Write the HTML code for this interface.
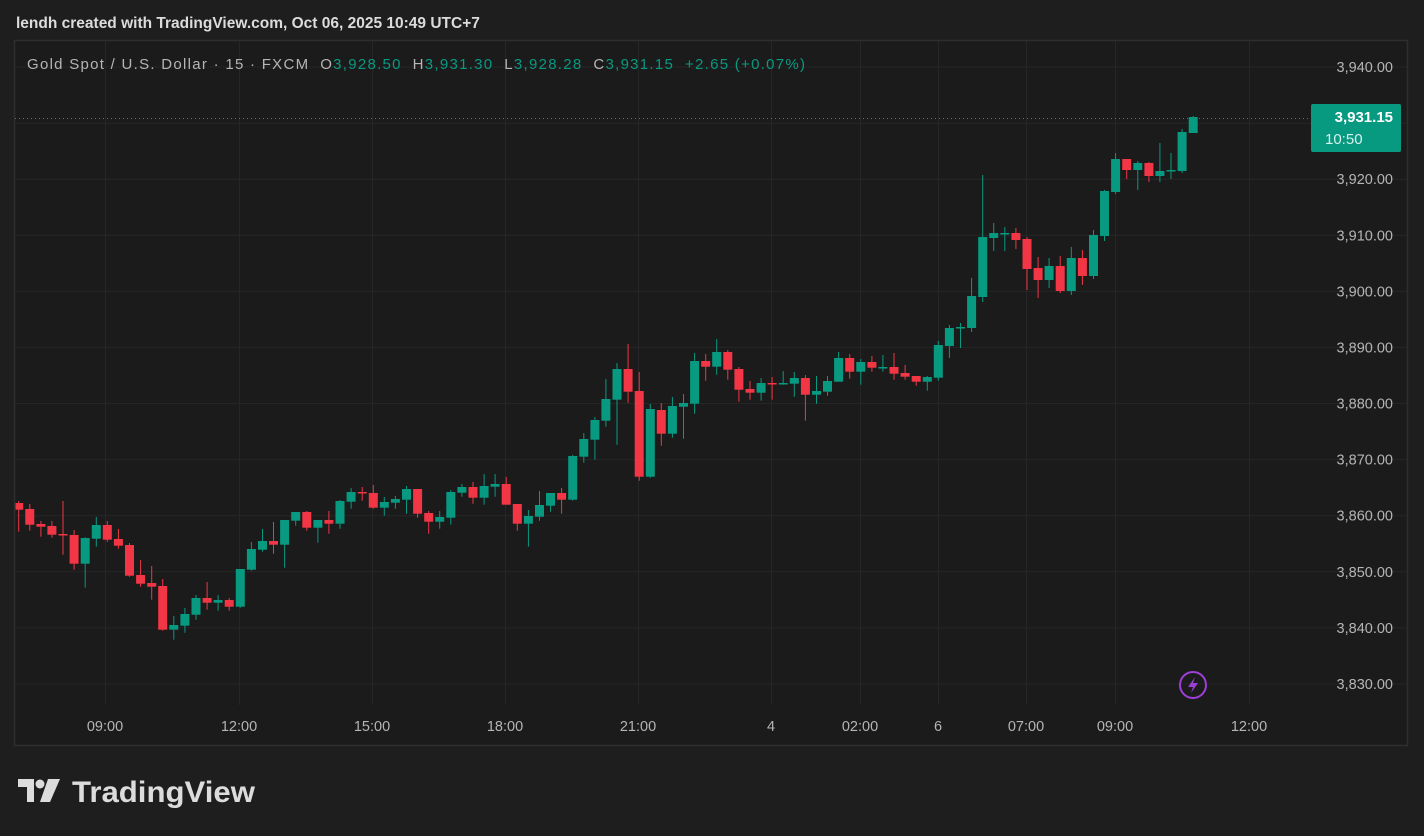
<!DOCTYPE html>
<html><head><meta charset="utf-8"><style>
body{margin:0;width:1424px;height:836px;background:#1e1e1e;overflow:hidden;font-family:"Liberation Sans",sans-serif}
svg{position:absolute;left:0;top:0}
</style></head><body>
<svg width="1424" height="836" id="s" xmlns="http://www.w3.org/2000/svg">
<rect x="0" y="0" width="1424" height="836" fill="#1e1e1e"/>
<text x="16" y="28" fill="#dcdcdc" font-size="15.5" font-weight="bold" font-family="Liberation Sans, sans-serif">lendh created with TradingView.com, Oct 06, 2025 10:49 UTC+7</text>
<rect x="14.5" y="40.5" width="1393" height="705" fill="#1b1b1b" stroke="#2e2e2e" stroke-width="1.5"/>
<g id="grid" stroke="#262626" stroke-width="1"></g>
<g id="c"></g>
<line x1="15" y1="118.5" x2="1310" y2="118.5" stroke="#089981" stroke-dasharray="1,3" stroke-width="1"/>
<g id="axis" fill="#b5b5b5" font-size="14.5" font-family="Liberation Sans, sans-serif"></g>
<rect x="1311" y="104" width="90" height="48" rx="2" fill="#089981"/>
<text x="1393" y="122" text-anchor="end" fill="#fff" font-size="15" font-weight="bold" font-family="Liberation Sans, sans-serif">3,931.15</text>
<text x="1325" y="144" fill="#d8f0ea" font-size="15" font-family="Liberation Sans, sans-serif">10:50</text>
<text x="27" y="69" font-size="15" font-family="Liberation Sans, sans-serif" fill="#b5b5b5" style="white-space:pre" xml:space="preserve" textLength="778" lengthAdjust="spacing">Gold Spot / U.S. Dollar · 15 · FXCM  O<tspan fill="#089981">3,928.50</tspan>  H<tspan fill="#089981">3,931.30</tspan>  L<tspan fill="#089981">3,928.28</tspan>  C<tspan fill="#089981">3,931.15  +2.65 (+0.07%)</tspan></text>
<circle cx="1193" cy="685" r="13" fill="none" stroke="#9c3fd6" stroke-width="2"/>
<path d="M1195 677 L1188 687 L1193 687 L1191 693 L1198 683 L1193 683 Z" fill="#9c3fd6"/>
<g fill="#dcdcdc">
<path d="M18 779 h16 v23 h-7 v-15 h-9 z"/><circle cx="40" cy="784" r="4.5"/><path d="M48 779 h12 l-10 23 h-10 z"/>
</g>
<text x="72" y="802" fill="#dcdcdc" font-size="30" font-weight="bold" font-family="Liberation Sans, sans-serif" textLength="183" lengthAdjust="spacingAndGlyphs">TradingView</text>
</svg>
<script>
var d=[
['r',503,509.7,501,531.7],['r',509,524.7,504,530.7],['r',524,526.7,521,536.7],['r',526,534.7,521,537.7],['r',534,534.7,501,554.7],['r',535,563.7,530,569.7],['g',538,563.7,537.3,587.7],['g',525,538.7,517,546.7],['r',525,539.7,521,541.7],['r',539,545.7,529,548.7],
['r',545,575.7,543,576.7],['r',575,583.7,560,586.7],['r',583,586.7,566,599.7],['r',586,629.7,579,630.7],['g',625,629.7,616,639.7],['g',614,625.7,608,632.7],['g',598,614.7,595,619.7],['r',598,602.7,582,609.7],['g',600,602.7,595,610.7],['r',600,606.7,598,610.7],
['g',569,606.7,569,607.7],['g',549,569.7,542,570.7],['g',541,549.7,529,551.7],['r',541,544.7,522,553.7],['g',520,544.7,520,567.7],['g',512,520.7,512,525.7],['r',512,527.7,511,530.7],['g',520,527.7,520,542.7],['r',520,523.7,511,533.7],['g',501,523.7,500,528.7],
['g',492,501.7,488,508.7],['r',492,492.7,487,500.7],['r',493,507.7,485,508.7],['g',502,507.7,497,515.7],['g',499,502.7,496,508.7],['g',489,499.7,486,513.7],['r',489,513.7,489,517.7],['r',513,521.7,511,533.7],['g',517,521.7,511,528.7],['g',492,517.7,490,524.7],
['g',487,492.7,484,496.7],['r',487,497.7,482,503.7],['g',486,497.7,474,504.7],['g',484,486.7,474,496.7],['r',484,504.7,477,504.7],['r',504,523.7,504,530.7],['g',516,523.7,510,546.7],['g',505,516.7,491,520.7],['g',493,505.7,493,511.7],['r',493,499.7,488,513.7],
['g',456,499.7,455,500.7],['g',439,456.7,433,462.7],['g',420,439.7,417,459.7],['g',399,420.7,379,426.7],['g',369,399.7,363,444.7],['r',369,391.7,344,402.7],['r',391,476.7,372,480.7],['g',409,476.7,404,477.7],['r',410,433.7,403,445.7],['g',406,433.7,397,437.7],
['g',403,406.7,394,438.7],['g',361,403.7,353,413.7],['r',361,366.7,354,380.7],['g',352,366.7,339,374.7],['r',352,369.7,350,379.7],['r',369,389.7,367,401.7],['r',389,392.7,381,399.7],['g',383,392.7,378,400.7],['r',383,383.7,377,399.7],['g',383,383.7,371,384.7],
['g',378,383.7,372,396.7],['r',378,394.7,375,420.7],['g',391,394.7,376,403.7],['g',381,391.7,376,395.7],['g',358,381.7,352,381.7],['r',358,371.7,354,378.7],['g',362,371.7,359,384.7],['r',362,367.7,356,371.7],['g',367,367.7,355,371.7],['r',367,373.7,353,379.7],
['r',373,376.7,365,379.7],['r',376,381.7,376,385.7],['g',377,381.7,376,390.7],['g',345,377.7,341,380.7],['g',328,346,325,358],['g',327,327.7,323,348],['g',296,328,278,332],['g',237,297,175,302],['g',233,238,223,251],['g',233,233.7,227,251],
['r',233,240,228,249],['r',239,269,237,290],['r',268,280,257,298],['g',266,280,258,288],['r',266,291,256,293],['g',258,291,247,295],['r',258,276,250,285],['g',235,276,230,279],['g',191,236,190,241],['g',159,192,153,194],
['r',159,170,159,179],['g',163,170,161,190],['r',163,176,162,182],['g',171,176,143,182],['g',170,170.7,153,179],['g',132,171,129,173],['g',117,133,116,133]];
var h='';
d.forEach(function(c,i){var x=18.7+i*11.08,col=c[0]=='r'?'#f23645':'#089981';
var bh=Math.max(1.5,c[2]-c[1]);
h+='<line x1="'+x.toFixed(1)+'" x2="'+x.toFixed(1)+'" y1="'+c[3]+'" y2="'+c[4]+'" stroke="'+col+'" stroke-width="1"/>';
var l=Math.max(15.5,x-4.5);h+='<rect x="'+l.toFixed(1)+'" y="'+c[1]+'" width="'+(x+4.5-l).toFixed(1)+'" height="'+bh.toFixed(1)+'" fill="'+col+'"/>';});
document.getElementById('c').innerHTML=h;
var g='',a='';
for(var p=3940;p>=3830;p-=10){var y=67+(3940-p)*5.609;g+='<line x1="15" x2="1407" y1="'+y.toFixed(1)+'" y2="'+y.toFixed(1)+'"/>';
a+='<text x="1393" y="'+(y+5).toFixed(1)+'" text-anchor="end">'+(p/1000|0)+','+String(p%1000).padStart(3,'0')+'.00</text>';}
var t=[[105,'09:00'],[239,'12:00'],[372,'15:00'],[505,'18:00'],[638,'21:00'],[771,'4'],[860,'02:00'],[938,'6'],[1026,'07:00'],[1115,'09:00'],[1249,'12:00']];
t.forEach(function(q){g+='<line x1="'+(q[0]+.5)+'" x2="'+(q[0]+.5)+'" y1="41" y2="705"/>';a+='<text x="'+q[0]+'" y="731" text-anchor="middle">'+q[1]+'</text>';});
document.getElementById('grid').innerHTML=g;document.getElementById('axis').innerHTML=a;
</script>
</body></html>
